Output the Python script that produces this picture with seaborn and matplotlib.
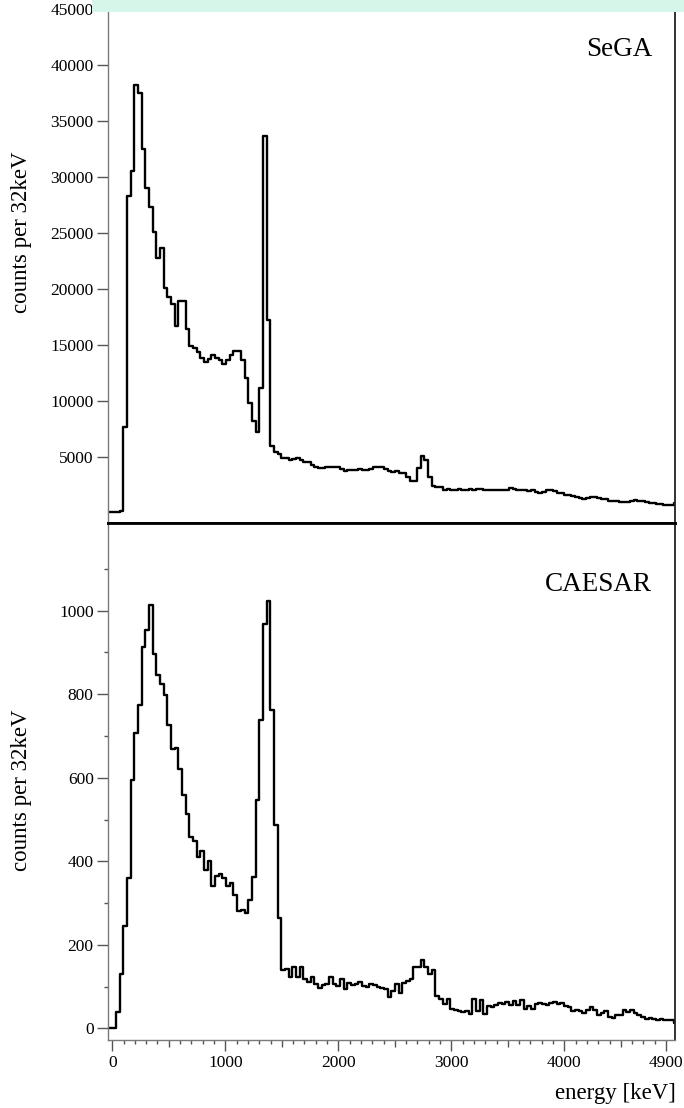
import numpy as np
import pandas as pd
import matplotlib
matplotlib.use("Agg")
import matplotlib.pyplot as plt
import seaborn as sns
from matplotlib.ticker import FixedLocator
from matplotlib.patches import Rectangle

# ---------------- data ----------------
BIN_WIDTH = 32.5          # keV per bin on the drawn axis
FIRST_BIN = -2            # index of first bin

sega_counts = [
    80, 80, 80, 80, 150,
    7680, 28300, 30550, 38200, 37460, 32490, 29030, 27280, 25040, 22750,
    23670, 20040, 19290, 18640, 16670, 18930, 18880, 16380, 14920, 14680,
    14320, 13840, 13480, 13720, 14080, 13840, 13660, 13250, 13660, 14080,
    14440, 14440, 13610, 12000, 9770, 8210,
    7170, 11100, 33650, 17210, 5950, 5450, 5200, 4870, 4850,
    4700, 4790, 4850, 4700, 4550, 4550, 4250, 4100, 3960, 3960, 4100, 4040,
    4040, 4100, 3900, 3745, 3810, 3810, 3810, 3870, 3810, 3810, 3870, 4100,
    4100, 4040, 3900, 3745, 3660, 3720, 3570, 3570, 3210, 2820, 2820, 3960,
    5080, 4700,
    3210, 2376, 2320, 2320, 2020, 2080, 2050, 2020, 2100, 2020, 2050, 2080,
    2020, 2100, 2080, 2020, 2000, 2020, 2030, 2020, 2000, 2020, 2170, 2080,
    2020, 2030, 2020, 1960, 2020, 1800, 1750, 1810, 2020, 2020, 1900, 1780,
    1720, 1600, 1550, 1450, 1360, 1300, 1210, 1300, 1360, 1360, 1300, 1210,
    1210, 1060, 1030, 1000, 970, 960, 910, 1060, 1120, 1000, 1000, 910, 820,
    820, 760, 760, 700, 700, 700, 820,
]

caesar_counts = [
    0, 0, 0, 39, 131, 245, 361, 595, 708, 774, 912, 954, 1013, 896, 845, 824,
    798, 726, 668, 672, 622, 558, 512, 459, 449, 411, 425, 378, 401, 340, 364,
    370, 361, 340, 347, 320, 280, 283, 276, 307, 362, 546, 739, 968, 1023, 763,
    488, 263,
    139, 143, 123, 147, 123, 147, 117, 111, 123, 105, 97, 103, 107, 123, 105,
    101, 117, 93, 108, 103, 106, 111, 101, 99, 107, 103, 99, 96, 95,
    75, 89, 105, 85, 108, 113, 119, 148, 148, 163, 147, 131, 140,
    77, 69, 59, 69, 47, 43, 41, 39, 41, 35, 69, 41, 67, 35, 53, 51, 55, 61, 59,
    63, 57, 65, 55, 67, 47, 53, 47, 59, 61, 59, 55, 61, 63, 59, 61, 53, 51, 41,
    43, 41, 37, 45, 51, 43, 31, 37, 41, 27, 25, 31, 33, 45, 39, 43, 37, 33, 27,
    23, 25, 23, 19, 23, 19, 19, 19, 13,
]

panel_names = ["SeGA", "CAESAR"]
y_label = "counts per 32keV"
x_label = "energy [keV]"
sega_yticks = [5000, 10000, 15000, 20000, 25000, 30000, 35000, 40000, 45000]
caesar_yticks = [0, 200, 400, 600, 800, 1000]
caesar_yminor = [100, 300, 500, 700, 900, 1100]
x_major = [0, 1000, 2000, 3000, 4000, 4900]
x_medium = [500, 1500, 2500, 3500, 4500]
x_minor = [v for v in range(100, 4900, 100) if v % 500 != 0]

n_bins = len(sega_counts)
edges = [float(e) for e in (np.arange(n_bins + 1) + FIRST_BIN) * BIN_WIDTH]
centers = [0.5 * (a + b) for a, b in zip(edges[:-1], edges[1:])]
df = pd.DataFrame({
    "energy": centers + centers,
    "counts": [float(v) for v in sega_counts + caesar_counts],
    "detector": ["SeGA"] * n_bins + ["CAESAR"] * n_bins,
})

# ---------------- style ----------------
sns.set_style("ticks")
plt.rcParams["font.family"] = ["Liberation Serif", "DejaVu Serif"]
plt.rcParams["text.color"] = "black"
plt.rcParams["xtick.labelcolor"] = "black"
plt.rcParams["ytick.labelcolor"] = "black"

W, H = 684, 1108
fig = plt.figure(figsize=(W / 100, H / 100), dpi=100)

def fx(px):
    return px / W

def fy(py):
    return 1 - py / H

L, R = 108, 675.3
ax1 = fig.add_axes([fx(L), fy(523), fx(R) - fx(L), fy(9) - fy(523)])
ax2 = fig.add_axes([fx(L), fy(1040), fx(R) - fx(L), fy(523) - fy(1040)])

XLIM = (-38, 4982)
for ax, name, ylim in [(ax1, "SeGA", (-930, 45000)), (ax2, "CAESAR", (-28, 1210))]:
    sub = df[df["detector"] == name].reset_index(drop=True)
    sns.histplot(data=sub, x="energy", weights="counts", bins=edges,
                 element="step", fill=False, color="black", linewidth=1.7,
                 ax=ax)
    ax.set_xlim(*XLIM)
    ax.set_ylim(*ylim)
    ax.set_xlabel("")
    ax.set_ylabel("")
    ax.set_facecolor("white")
    ax.spines["left"].set_color("#7a7a7a")
    ax.spines["left"].set_linewidth(1.0)
    ax.spines["right"].set_color("#222222")
    ax.spines["right"].set_linewidth(1.3)

# top panel
ax1.spines["bottom"].set_color("black")
ax1.spines["bottom"].set_linewidth(2.0)
ax1.spines["top"].set_visible(False)
ax1.set_xticks([])
ax1.yaxis.set_major_locator(FixedLocator(sega_yticks))
ax1.set_yticklabels([str(v) for v in sega_yticks])
ax1.tick_params(axis="y", which="major", direction="out", length=7.9,
                width=1.0, color="#555555", pad=2.4, labelsize=12.5,
                labelcolor="black")

# bottom panel
ax2.spines["top"].set_color("black")
ax2.spines["top"].set_linewidth(2.0)
ax2.spines["bottom"].set_color("#7a7a7a")
ax2.spines["bottom"].set_linewidth(1.0)
ax2.yaxis.set_major_locator(FixedLocator(caesar_yticks))
ax2.set_yticklabels([str(v) for v in caesar_yticks])
ax2.yaxis.set_minor_locator(FixedLocator(caesar_yminor))
ax2.tick_params(axis="y", which="major", direction="out", length=7.9,
                width=1.0, color="#555555", pad=2.4, labelsize=12.5,
                labelcolor="black")
ax2.tick_params(axis="y", which="minor", direction="out", length=3.0,
                width=1.0, color="#555555")

xt = x_major + x_medium
ax2.xaxis.set_major_locator(FixedLocator(xt))
ax2.set_xticklabels([str(v) if v in x_major else "" for v in xt])
ax2.xaxis.set_minor_locator(FixedLocator(x_minor))
ax2.tick_params(axis="x", which="major", direction="out", length=7.9,
                width=1.0, color="#555555", pad=3.0, labelsize=12.5,
                labelcolor="black")
ax2.tick_params(axis="x", which="minor", direction="out", length=2.9,
                width=1.0, color="#555555")
for t, v in zip(ax2.xaxis.get_major_ticks(), xt):
    if v not in x_major:
        t.tick1line.set_markersize(5.3)

# texts
fig.text(fx(653), fy(56), "SeGA", ha="right", va="baseline", fontsize=19.5)
fig.text(fx(652), fy(591), "CAESAR", ha="right", va="baseline", fontsize=19.5)
fig.text(fx(22), fy(232), y_label, rotation=90, ha="center", va="center",
         fontsize=16.5)
fig.text(fx(22), fy(790), y_label, rotation=90, ha="center", va="center",
         fontsize=16.5)
fig.text(fx(676), fy(1099), x_label, ha="right", va="baseline", fontsize=16.5)

# light band at the top edge
fig.add_artist(Rectangle((fx(92), fy(12)), fx(684) - fx(92), 12 / H,
                         transform=fig.transFigure, facecolor="#d6f6ea",
                         edgecolor="none", zorder=10))

fig.savefig("out.png", dpi=100)
